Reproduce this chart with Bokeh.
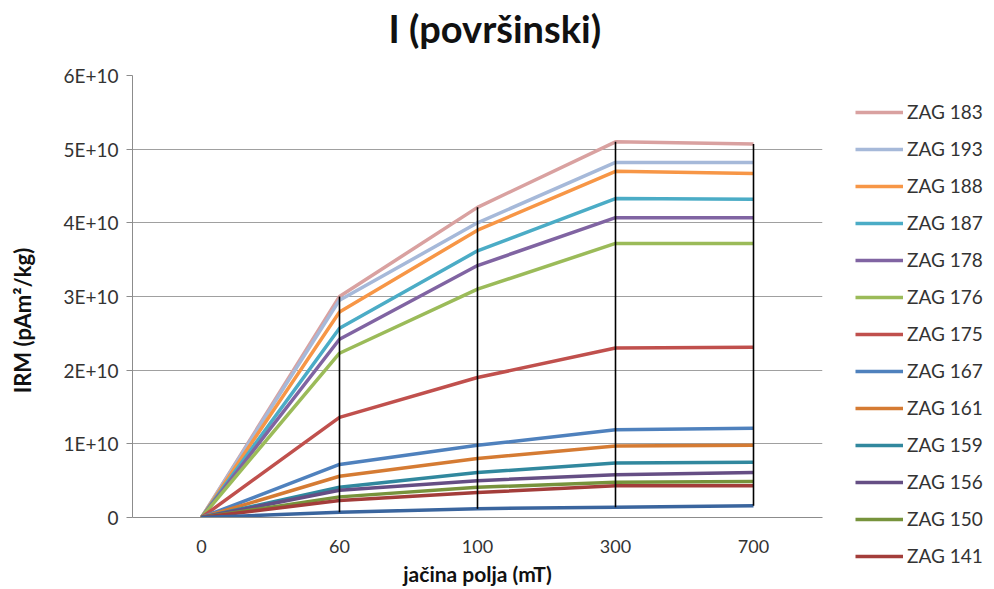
from bokeh.plotting import figure
from bokeh.models import Legend, LegendItem, CustomJSTickFormatter, FactorRange, Range1d, FixedTicker, Title
from bokeh.embed import file_html
from bokeh.resources import INLINE

fields = ["0", "60", "100", "300", "700"]

zag183 = [0, 3.00e10, 4.21e10, 5.10e10, 5.07e10]
zag193 = [0, 2.95e10, 4.00e10, 4.82e10, 4.82e10]
zag188 = [0, 2.79e10, 3.90e10, 4.70e10, 4.67e10]
zag187 = [0, 2.57e10, 3.62e10, 4.33e10, 4.32e10]
zag178 = [0, 2.42e10, 3.42e10, 4.07e10, 4.07e10]
zag176 = [0, 2.23e10, 3.10e10, 3.72e10, 3.72e10]
zag175 = [0, 1.36e10, 1.90e10, 2.30e10, 2.31e10]
zag167 = [0, 0.72e10, 0.98e10, 1.19e10, 1.21e10]
zag161 = [0, 0.56e10, 0.80e10, 0.97e10, 0.98e10]
zag159 = [0, 0.41e10, 0.61e10, 0.74e10, 0.75e10]
zag156 = [0, 0.37e10, 0.50e10, 0.58e10, 0.61e10]
zag150 = [0, 0.28e10, 0.41e10, 0.48e10, 0.49e10]
zag141 = [0, 0.23e10, 0.34e10, 0.43e10, 0.43e10]
unlabeled = [0, 0.07e10, 0.12e10, 0.14e10, 0.16e10]

names = ["ZAG 183", "ZAG 193", "ZAG 188", "ZAG 187", "ZAG 178", "ZAG 176", "ZAG 175",
         "ZAG 167", "ZAG 161", "ZAG 159", "ZAG 156", "ZAG 150", "ZAG 141", ""]
series = [zag183, zag193, zag188, zag187, zag178, zag176, zag175,
          zag167, zag161, zag159, zag156, zag150, zag141, unlabeled]
colors = ["#D9A1A0", "#A6B9D9", "#F79646", "#4BACC6", "#8064A2", "#9BBB59", "#C0504D",
          "#4F81BD", "#D57B33", "#31889E", "#654E84", "#77933C", "#A33D3A", "#3A659E"]

yticks = [0, 1e10, 2e10, 3e10, 4e10, 5e10, 6e10]

FONT = "Lato"

p = figure(frame_width=690, frame_height=442, x_range=FactorRange(*fields, range_padding=0),
           y_range=Range1d(0, 6e10), output_backend="svg", toolbar_location=None,
           min_border_left=132, min_border_right=170, min_border_top=75, min_border_bottom=60)

p.outline_line_color = None
p.title.text = ""

# spacer between title and frame (closer to the frame), then the main title
spacer = Title(text=" ", text_font_size="1px", standoff=22)
p.add_layout(spacer, "above")
main_title = Title(text="I (površinski)", text_font=FONT, text_font_size="38px",
                   text_font_style="bold", text_color="#111111", align="left",
                   offset=256, vertical_align="bottom", standoff=0)
p.add_layout(main_title, "above")

items = []
for name, vals, col in zip(names, series, colors):
    r = p.line(fields, vals, line_color=col, line_width=3.5)
    if name:
        items.append(LegendItem(label=name, renderers=[r]))

# high-low lines
cats = fields[1:]
lows = [min(s[i] for s in series) for i in range(1, len(fields))]
highs = [max(s[i] for s in series) for i in range(1, len(fields))]
p.segment(x0=cats, y0=lows, x1=cats, y1=highs, line_color="black", line_width=1.6)

# axes
p.yaxis.ticker = FixedTicker(ticks=yticks)
p.yaxis.formatter = CustomJSTickFormatter(code="return tick == 0 ? '0' : (tick/1e10).toFixed(0) + 'E+10';")
p.yaxis.axis_line_color = "#8c8c8c"
p.yaxis.major_tick_line_color = "#8c8c8c"
p.yaxis.major_tick_out = 6
p.yaxis.major_tick_in = 0
p.yaxis.minor_tick_line_color = None
p.yaxis.major_label_text_font = FONT
p.yaxis.major_label_text_font_size = "19px"
p.yaxis.major_label_text_color = "#333333"
p.yaxis.major_label_standoff = 8
p.yaxis.axis_label = "IRM (pAm²/kg)" + "\u00a0" * 9
p.yaxis.axis_label_text_font = FONT
p.yaxis.axis_label_text_font_size = "22px"
p.yaxis.axis_label_text_font_style = "bold"
p.yaxis.axis_label_text_color = "#111111"
p.yaxis.axis_label_standoff = 24

p.xaxis.axis_line_color = "#8c8c8c"
p.xaxis.major_tick_line_color = None
p.xaxis.major_tick_out = 0
p.xaxis.major_tick_in = 0
p.xaxis.major_label_text_font = FONT
p.xaxis.major_label_text_font_size = "18px"
p.xaxis.major_label_text_color = "#333333"
p.xaxis.major_label_standoff = 22
p.xaxis.axis_label = "jačina polja (mT)"
p.xaxis.axis_label_text_font = FONT
p.xaxis.axis_label_text_font_size = "21px"
p.xaxis.axis_label_text_font_style = "bold"
p.xaxis.axis_label_text_color = "#111111"
p.xaxis.axis_label_standoff = 5

p.xgrid.grid_line_color = None
p.ygrid.grid_line_color = "#a0a0a0"
p.ygrid.grid_line_width = 1

legend = Legend(items=items, location=(33, -50), orientation="vertical")
legend.border_line_color = None
legend.background_fill_alpha = 0
legend.glyph_width = 48
legend.glyph_height = 20
legend.label_height = 20
legend.spacing = 14
legend.padding = 3
legend.margin = 0
legend.label_standoff = 4
legend.label_text_font = FONT
legend.label_text_font_size = "19px"
legend.label_text_color = "#333333"
p.add_layout(legend, "right")

open("out.html", "w").write(file_html(p, INLINE))
